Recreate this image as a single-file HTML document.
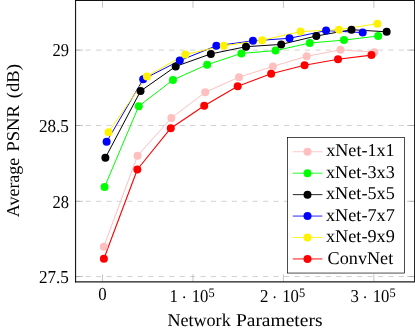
<!DOCTYPE html><html><head><meta charset="utf-8"><style>html,body{margin:0;padding:0;background:#fff;}svg{display:block;will-change:transform;text-rendering:geometricPrecision;font-family:"Liberation Serif",serif;}</style></head><body>
<svg width="415" height="332" viewBox="0 0 415 332">
<rect width="415" height="332" fill="#fff"/>
<g>
<rect x="-20" y="-20" width="455" height="372" fill="#fff"/>
<line x1="75.55" y1="50.1" x2="414.7" y2="50.1" stroke="#bfbfbf" stroke-width="0.7" stroke-dasharray="5.22 5.22" stroke-dashoffset="0.4"/>
<line x1="75.55" y1="125.5" x2="414.7" y2="125.5" stroke="#bfbfbf" stroke-width="0.7" stroke-dasharray="5.22 5.22" stroke-dashoffset="0.4"/>
<line x1="75.55" y1="201.3" x2="414.7" y2="201.3" stroke="#bfbfbf" stroke-width="0.7" stroke-dasharray="5.22 5.22" stroke-dashoffset="0.4"/>
<line x1="75.55" y1="276.55" x2="414.7" y2="276.55" stroke="#bfbfbf" stroke-width="0.7" stroke-dasharray="5.22 5.22" stroke-dashoffset="0.4"/>
<line x1="102.5" y1="281.8" x2="102.5" y2="274.3" stroke="#8c8c8c" stroke-width="0.5"/>
<line x1="102.5" y1="0.3" x2="102.5" y2="7.8" stroke="#8c8c8c" stroke-width="0.5"/>
<line x1="192.96" y1="281.8" x2="192.96" y2="274.3" stroke="#8c8c8c" stroke-width="0.5"/>
<line x1="192.96" y1="0.3" x2="192.96" y2="7.8" stroke="#8c8c8c" stroke-width="0.5"/>
<line x1="283.42" y1="281.8" x2="283.42" y2="274.3" stroke="#8c8c8c" stroke-width="0.5"/>
<line x1="283.42" y1="0.3" x2="283.42" y2="7.8" stroke="#8c8c8c" stroke-width="0.5"/>
<line x1="373.88" y1="281.8" x2="373.88" y2="274.3" stroke="#8c8c8c" stroke-width="0.5"/>
<line x1="373.88" y1="0.3" x2="373.88" y2="7.8" stroke="#8c8c8c" stroke-width="0.5"/>
<line x1="75.55" y1="50.1" x2="83.05" y2="50.1" stroke="#8c8c8c" stroke-width="0.5"/>
<line x1="414.7" y1="50.1" x2="407.2" y2="50.1" stroke="#8c8c8c" stroke-width="0.5"/>
<line x1="75.55" y1="125.5" x2="83.05" y2="125.5" stroke="#8c8c8c" stroke-width="0.5"/>
<line x1="414.7" y1="125.5" x2="407.2" y2="125.5" stroke="#8c8c8c" stroke-width="0.5"/>
<line x1="75.55" y1="201.3" x2="83.05" y2="201.3" stroke="#8c8c8c" stroke-width="0.5"/>
<line x1="414.7" y1="201.3" x2="407.2" y2="201.3" stroke="#8c8c8c" stroke-width="0.5"/>
<line x1="75.55" y1="276.55" x2="83.05" y2="276.55" stroke="#8c8c8c" stroke-width="0.5"/>
<line x1="414.7" y1="276.55" x2="407.2" y2="276.55" stroke="#8c8c8c" stroke-width="0.5"/>
<path d="M103.75,246.8 L137.57,155.7 L171.39,118.0 L205.21,92.3 L239.03,77.2 L272.85,66.4 L306.68,56.3 L340.5,49.8 L374.32,52.2" fill="none" stroke="#ffbfbf" stroke-width="1.0" stroke-linejoin="round"/>
<path d="M104.55,187.0 L138.76,106.2 L172.96,79.9 L207.16,64.7 L241.37,53.4 L275.57,50.6 L309.77,43.0 L343.98,40.1 L378.18,36.0" fill="none" stroke="#00ff00" stroke-width="1.0" stroke-linejoin="round"/>
<path d="M105.38,157.8 L140.54,91.1 L175.7,66.4 L210.86,53.9 L246.02,46.7 L281.18,44.4 L316.34,36.0 L351.5,29.7 L386.66,31.8" fill="none" stroke="#000000" stroke-width="1.0" stroke-linejoin="round"/>
<path d="M106.6,141.8 L143.18,79.3 L179.76,60.6 L216.35,45.8 L252.93,40.8 L289.51,38.3 L326.09,30.6 L362.67,32.6" fill="none" stroke="#0000ff" stroke-width="1.0" stroke-linejoin="round"/>
<path d="M108.55,132.2 L146.95,76.4 L185.35,54.5 L223.75,45.8 L262.15,40.2 L300.55,31.6 L338.95,29.7 L377.35,23.7" fill="none" stroke="#fff200" stroke-width="1.0" stroke-linejoin="round"/>
<path d="M103.89,258.8 L137.34,169.5 L170.78,128.2 L204.23,105.8 L237.68,86.2 L271.12,73.8 L304.57,65.2 L338.02,59.2 L371.46,55.1" fill="none" stroke="#ff0000" stroke-width="1.1" stroke-linejoin="round"/>
<circle cx="103.75" cy="246.8" r="4.0" fill="#ffbfbf"/>
<circle cx="137.57" cy="155.7" r="4.0" fill="#ffbfbf"/>
<circle cx="171.39" cy="118.0" r="4.0" fill="#ffbfbf"/>
<circle cx="205.21" cy="92.3" r="4.0" fill="#ffbfbf"/>
<circle cx="239.03" cy="77.2" r="4.0" fill="#ffbfbf"/>
<circle cx="272.85" cy="66.4" r="4.0" fill="#ffbfbf"/>
<circle cx="306.68" cy="56.3" r="4.0" fill="#ffbfbf"/>
<circle cx="340.5" cy="49.8" r="4.0" fill="#ffbfbf"/>
<circle cx="374.32" cy="52.2" r="4.0" fill="#ffbfbf"/>
<circle cx="104.55" cy="187.0" r="4.0" fill="#00ff00"/>
<circle cx="138.76" cy="106.2" r="4.0" fill="#00ff00"/>
<circle cx="172.96" cy="79.9" r="4.0" fill="#00ff00"/>
<circle cx="207.16" cy="64.7" r="4.0" fill="#00ff00"/>
<circle cx="241.37" cy="53.4" r="4.0" fill="#00ff00"/>
<circle cx="275.57" cy="50.6" r="4.0" fill="#00ff00"/>
<circle cx="309.77" cy="43.0" r="4.0" fill="#00ff00"/>
<circle cx="343.98" cy="40.1" r="4.0" fill="#00ff00"/>
<circle cx="378.18" cy="36.0" r="4.0" fill="#00ff00"/>
<circle cx="105.38" cy="157.8" r="4.0" fill="#000000"/>
<circle cx="140.54" cy="91.1" r="4.0" fill="#000000"/>
<circle cx="175.7" cy="66.4" r="4.0" fill="#000000"/>
<circle cx="210.86" cy="53.9" r="4.0" fill="#000000"/>
<circle cx="246.02" cy="46.7" r="4.0" fill="#000000"/>
<circle cx="281.18" cy="44.4" r="4.0" fill="#000000"/>
<circle cx="316.34" cy="36.0" r="4.0" fill="#000000"/>
<circle cx="351.5" cy="29.7" r="4.0" fill="#000000"/>
<circle cx="386.66" cy="31.8" r="4.0" fill="#000000"/>
<circle cx="106.6" cy="141.8" r="4.0" fill="#0000ff"/>
<circle cx="143.18" cy="79.3" r="4.0" fill="#0000ff"/>
<circle cx="179.76" cy="60.6" r="4.0" fill="#0000ff"/>
<circle cx="216.35" cy="45.8" r="4.0" fill="#0000ff"/>
<circle cx="252.93" cy="40.8" r="4.0" fill="#0000ff"/>
<circle cx="289.51" cy="38.3" r="4.0" fill="#0000ff"/>
<circle cx="326.09" cy="30.6" r="4.0" fill="#0000ff"/>
<circle cx="362.67" cy="32.6" r="4.0" fill="#0000ff"/>
<circle cx="108.55" cy="132.2" r="4.0" fill="#fff200"/>
<circle cx="146.95" cy="76.4" r="4.0" fill="#fff200"/>
<circle cx="185.35" cy="54.5" r="4.0" fill="#fff200"/>
<circle cx="223.75" cy="45.8" r="4.0" fill="#fff200"/>
<circle cx="262.15" cy="40.2" r="4.0" fill="#fff200"/>
<circle cx="300.55" cy="31.6" r="4.0" fill="#fff200"/>
<circle cx="338.95" cy="29.7" r="4.0" fill="#fff200"/>
<circle cx="377.35" cy="23.7" r="4.0" fill="#fff200"/>
<circle cx="103.89" cy="258.8" r="4.0" fill="#ff0000"/>
<circle cx="137.34" cy="169.5" r="4.0" fill="#ff0000"/>
<circle cx="170.78" cy="128.2" r="4.0" fill="#ff0000"/>
<circle cx="204.23" cy="105.8" r="4.0" fill="#ff0000"/>
<circle cx="237.68" cy="86.2" r="4.0" fill="#ff0000"/>
<circle cx="271.12" cy="73.8" r="4.0" fill="#ff0000"/>
<circle cx="304.57" cy="65.2" r="4.0" fill="#ff0000"/>
<circle cx="338.02" cy="59.2" r="4.0" fill="#ff0000"/>
<circle cx="371.46" cy="55.1" r="4.0" fill="#ff0000"/>
<path d="M75.55,-2 V282.45" fill="none" stroke="#1a1a1a" stroke-width="1.15"/>
<path d="M74.98,281.8 H418" fill="none" stroke="#1a1a1a" stroke-width="1.3"/>
<path d="M74.98,0.3 H418" fill="none" stroke="#111" stroke-width="1.3"/>
<path d="M414.7,-2 V281.8" fill="none" stroke="#1a1a1a" stroke-width="1.3"/>
<rect x="287.4" y="137.4" width="117.0" height="135.65" fill="#fff" stroke="#000" stroke-width="0.7"/>
<line x1="292.8" y1="151.75" x2="322.4" y2="151.75" stroke="#ffbfbf" stroke-width="0.85"/>
<circle cx="307.5" cy="151.75" r="4.0" fill="#ffbfbf"/>
<text x="360.4" y="156" font-size="18.0" text-anchor="middle" textLength="68.3" lengthAdjust="spacingAndGlyphs">xNet-1x1</text>
<line x1="292.8" y1="173.19" x2="322.4" y2="173.19" stroke="#00ff00" stroke-width="0.85"/>
<circle cx="307.5" cy="173.19" r="4.0" fill="#00ff00"/>
<text x="360.4" y="178" font-size="18.0" text-anchor="middle" textLength="68.8" lengthAdjust="spacingAndGlyphs">xNet-3x3</text>
<line x1="292.8" y1="194.63" x2="322.4" y2="194.63" stroke="#000000" stroke-width="0.85"/>
<circle cx="307.5" cy="194.63" r="4.0" fill="#000000"/>
<text x="360.4" y="199" font-size="18.0" text-anchor="middle" textLength="68.8" lengthAdjust="spacingAndGlyphs">xNet-5x5</text>
<line x1="292.8" y1="216.07" x2="322.4" y2="216.07" stroke="#0000ff" stroke-width="0.85"/>
<circle cx="307.5" cy="216.07" r="4.0" fill="#0000ff"/>
<text x="360.4" y="221" font-size="18.0" text-anchor="middle" textLength="68.8" lengthAdjust="spacingAndGlyphs">xNet-7x7</text>
<line x1="292.8" y1="237.51" x2="322.4" y2="237.51" stroke="#fff200" stroke-width="0.85"/>
<circle cx="307.5" cy="237.51" r="4.0" fill="#fff200"/>
<text x="360.4" y="242" font-size="18.0" text-anchor="middle" textLength="69" lengthAdjust="spacingAndGlyphs">xNet-9x9</text>
<line x1="292.8" y1="258.95" x2="322.4" y2="258.95" stroke="#ff0000" stroke-width="0.94"/>
<circle cx="307.5" cy="258.95" r="4.0" fill="#ff0000"/>
<text x="360.4" y="264" font-size="18.0" text-anchor="middle" textLength="65.6" lengthAdjust="spacingAndGlyphs">ConvNet</text>
<text x="68.9" y="56.40" font-size="18.3" text-anchor="end" textLength="16.5" lengthAdjust="spacingAndGlyphs">29</text>
<text x="68.9" y="131.80" font-size="18.3" text-anchor="end" textLength="30.0" lengthAdjust="spacingAndGlyphs">28.5</text>
<text x="68.9" y="207.60" font-size="18.3" text-anchor="end" textLength="16.5" lengthAdjust="spacingAndGlyphs">28</text>
<text x="68.9" y="282.85" font-size="18.3" text-anchor="end" textLength="30.0" lengthAdjust="spacingAndGlyphs">27.5</text>
<text x="98.3" y="300.4" font-size="18.3" textLength="8.4" lengthAdjust="spacingAndGlyphs">0</text>
<text x="169.56" y="301.5" font-size="18.3" textLength="8.4" lengthAdjust="spacingAndGlyphs">1</text>
<circle cx="184.16" cy="297.3" r="0.95" fill="#000"/>
<text x="191.76" y="301.5" font-size="18.3" textLength="16.7" lengthAdjust="spacingAndGlyphs">10</text>
<text x="208.56" y="296.7" font-size="12.9" textLength="6.2" lengthAdjust="spacingAndGlyphs">5</text>
<text x="260.02" y="301.5" font-size="18.3" textLength="8.4" lengthAdjust="spacingAndGlyphs">2</text>
<circle cx="274.62" cy="297.3" r="0.95" fill="#000"/>
<text x="282.22" y="301.5" font-size="18.3" textLength="16.7" lengthAdjust="spacingAndGlyphs">10</text>
<text x="299.02" y="296.7" font-size="12.9" textLength="6.2" lengthAdjust="spacingAndGlyphs">5</text>
<text x="350.48" y="301.5" font-size="18.3" textLength="8.4" lengthAdjust="spacingAndGlyphs">3</text>
<circle cx="365.08" cy="297.3" r="0.95" fill="#000"/>
<text x="372.68" y="301.5" font-size="18.3" textLength="16.7" lengthAdjust="spacingAndGlyphs">10</text>
<text x="389.48" y="296.7" font-size="12.9" textLength="6.2" lengthAdjust="spacingAndGlyphs">5</text>
<text x="167.4" y="326.0" font-size="18.0" textLength="63.3" lengthAdjust="spacingAndGlyphs">Network</text>
<text x="235.9" y="326.0" font-size="18.0" textLength="86.6" lengthAdjust="spacingAndGlyphs">Parameters</text>
<g transform="translate(19.2,217.2) rotate(-90)">
<text x="0" y="0" font-size="18.0" textLength="59.5" lengthAdjust="spacingAndGlyphs">Average</text>
<text x="65.6" y="0" font-size="18.0" textLength="46.4" lengthAdjust="spacingAndGlyphs">PSNR</text>
<text x="119.0" y="0" font-size="18.0" textLength="34.2" lengthAdjust="spacingAndGlyphs">(dB)</text>
</g>
</g></svg></body></html>
